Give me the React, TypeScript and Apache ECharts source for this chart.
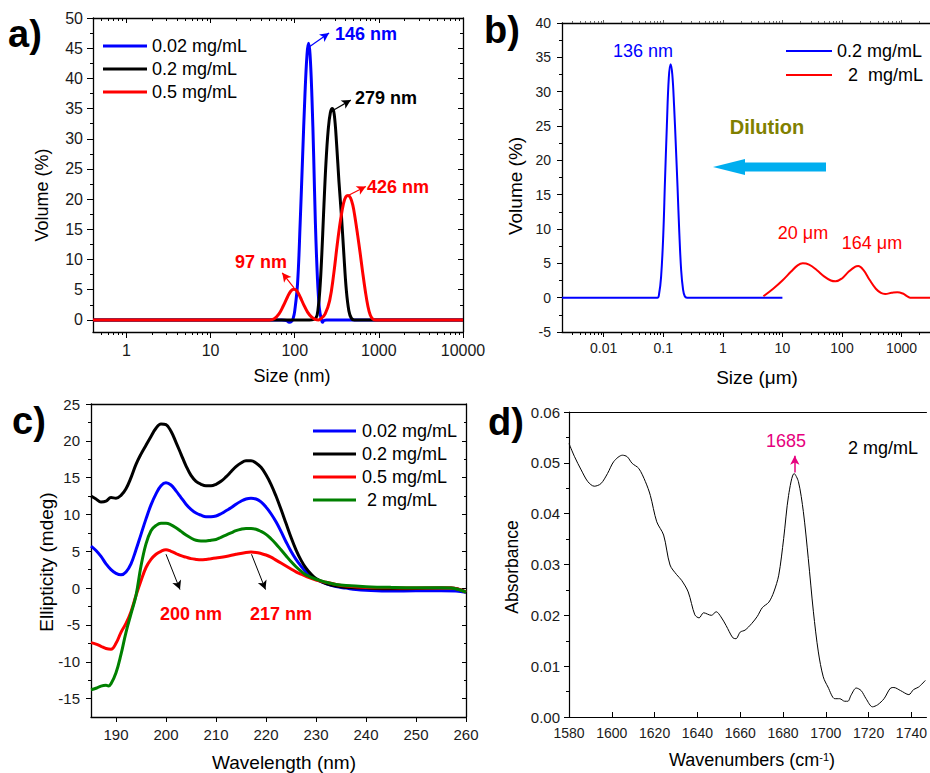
import React, { useEffect, useRef } from 'react';
import * as echarts from 'echarts';

const FONT = "'Liberation Sans', Arial, Helvetica, sans-serif";

// ---------- Panel a: DLS, size (nm) vs volume (%) ----------
const aNames = ['0.02 mg/mL', '0.2 mg/mL', '0.5 mg/mL'];
const aBlue = [[0.4, 0], [20, 0], [70, 0], [80, -0.1], [86, -0.4], [92, -0.2], [96, 0.3], [100, 1.5], [108, 6], [116, 16], [124, 27], [132, 37], [140, 44], [146, 45.8], [152, 44], [160, 37], [168, 27], [176, 16], [186, 7], [196, 2], [206, 0.2], [214, -0.4], [222, -0.1], [240, 0], [10000, 0]];
const aBlack = [[0.4, 0], [150, 0], [178, 0.3], [190, 2], [200, 5.5], [210, 11], [220, 17.5], [235, 26], [250, 31.5], [265, 34.3], [280, 35], [295, 34], [315, 29], [335, 23], [360, 17], [385, 10.5], [410, 5], [440, 1.5], [470, 0.3], [510, 0], [10000, 0]];
const aRed = [[0.4, 0], [50, 0], [57, 0.2], [65, 1.0], [73, 2.3], [82, 3.8], [90, 4.8], [98, 5.1], [106, 4.8], [116, 3.8], [128, 2.5], [142, 1.3], [158, 0.5], [175, 0.1], [192, 0], [205, 0.2], [230, 1.0], [260, 3.2], [290, 7.5], [320, 12.5], [350, 16.5], [380, 19.3], [405, 20.4], [431, 20.6], [460, 20.2], [490, 19], [520, 17], [560, 14], [600, 11], [640, 8], [690, 4.8], [740, 2.3], [790, 0.8], [840, 0.2], [900, 0], [10000, 0]];
const aXLabels = [1, 10, 100, 1000, 10000];
const aYLabels = [0, 5, 10, 15, 20, 25, 30, 35, 40, 45, 50];
const aYMinor = [2.5, 7.5, 12.5, 17.5, 22.5, 27.5, 32.5, 37.5, 42.5, 47.5];
const aArrowBlue = [[148, 45.2], [256, 47.5]];
const aArrowBlack = [[294, 34.8], [464, 36.4]];
const aArrowRed1 = [[443, 20.7], [700, 22.1]];
const aArrowRed2 = [[98, 5.3], [71, 7.8]];

// ---------- Panel b: DLS, size (um) ----------
const bNames = ['0.2 mg/mL', '2  mg/mL'];
const bBlue = [[0.002, 0], [0.08, 0], [0.085, 0.5], [0.092, 3], [0.1, 9], [0.107, 17], [0.115, 25], [0.124, 32], [0.133, 34], [0.142, 32.5], [0.152, 28], [0.163, 22], [0.174, 16], [0.186, 9.5], [0.2, 4], [0.215, 1.2], [0.23, 0.2], [0.25, 0], [10, 0]];
const bRed = [[4.8, 0.2], [7, 1.3], [10, 2.5], [14, 3.8], [18, 4.7], [22, 5.0], [28, 4.8], [38, 4.0], [50, 3.1], [65, 2.5], [78, 2.38], [100, 2.8], [130, 3.8], [165, 4.5], [188, 4.6], [230, 4.0], [290, 2.6], [370, 1.3], [450, 0.7], [530, 0.55], [680, 0.7], [850, 0.8], [1050, 0.6], [1250, 0.2], [1400, 0], [3000, 0]];
const bXLabels = [0.01, 0.1, 1, 10, 100, 1000];

// ---------- Panel c: CD spectra ----------
const cNames = ['0.02 mg/mL', '0.2 mg/mL', '0.5 mg/mL', ' 2 mg/mL'];
const cBlue = [[185, 5.7], [186, 5.1], [187, 4.3], [188, 3.3], [189, 2.5], [190, 2.0], [191, 1.8], [192, 2.2], [193, 3.3], [194, 5.2], [195, 7.3], [196, 9.4], [197, 11.3], [198, 12.8], [199, 13.9], [200, 14.3], [201, 14.0], [202, 13.2], [203, 12.3], [204, 11.4], [205, 10.7], [206, 10.2], [207, 9.9], [208, 9.7], [209, 9.7], [210, 9.8], [211, 10.1], [212, 10.5], [213, 10.9], [214, 11.4], [215, 11.8], [216, 12.1], [217, 12.2], [218, 12.1], [219, 11.7], [220, 11.0], [221, 10.1], [222, 9.0], [223, 7.7], [224, 6.3], [225, 5.0], [226, 3.9], [227, 3.0], [228, 2.2], [229, 1.6], [230, 1.2], [232, 0.6], [234, 0.2], [236, 0.0], [238, -0.2], [240, -0.3], [245, -0.4], [250, -0.35], [255, -0.35], [258, -0.4], [260, -0.55]];
const cBlack = [[185, 12.5], [186, 12.1], [187, 11.7], [188, 11.8], [189, 12.3], [190, 12.2], [191, 12.6], [192, 13.5], [193, 15.0], [194, 16.8], [195, 18.2], [196, 19.4], [197, 20.6], [198, 21.7], [199, 22.3], [200, 22.2], [201, 21.3], [202, 19.8], [203, 18.2], [204, 16.6], [205, 15.3], [206, 14.5], [207, 14.1], [208, 13.9], [209, 13.9], [210, 14.1], [211, 14.5], [212, 15.1], [213, 15.8], [214, 16.5], [215, 17.0], [216, 17.3], [217, 17.3], [218, 17.0], [219, 16.4], [220, 15.4], [221, 14.1], [222, 12.5], [223, 10.7], [224, 8.8], [225, 6.9], [226, 5.2], [227, 3.8], [228, 2.7], [229, 1.9], [230, 1.3], [232, 0.6], [234, 0.3], [236, 0.1], [240, 0.0], [245, -0.1], [250, -0.05], [255, 0.0], [257, 0.0], [260, -0.55]];
const cRed = [[185, -7.4], [186, -7.6], [187, -7.9], [188, -8.2], [189, -8.3], [190, -7.5], [191, -6.0], [192, -4.8], [193, -3.2], [194, -1.0], [195, 1.0], [196, 2.8], [197, 3.9], [198, 4.6], [199, 5.0], [200, 5.2], [201, 5.0], [202, 4.7], [203, 4.4], [204, 4.2], [205, 4.0], [206, 3.9], [207, 3.85], [208, 3.9], [209, 4.0], [210, 4.1], [212, 4.3], [214, 4.6], [216, 4.85], [217, 4.9], [218, 4.85], [219, 4.7], [220, 4.5], [221, 4.2], [222, 3.8], [223, 3.4], [224, 3.0], [225, 2.6], [226, 2.2], [227, 1.9], [228, 1.6], [230, 1.1], [232, 0.8], [234, 0.5], [236, 0.3], [240, 0.1], [245, 0.05], [250, 0.0], [257, 0.0], [260, -0.55]];
const cGreen = [[185, -13.8], [186, -13.6], [187, -13.3], [188, -13.2], [188.5, -13.3], [189, -13.0], [190, -11.5], [191, -9.0], [192, -6.0], [193, -3.5], [194, -1.0], [195, 3.0], [196, 6.0], [197, 7.8], [198, 8.5], [199, 8.8], [200, 8.8], [201, 8.6], [202, 8.2], [203, 7.7], [204, 7.2], [205, 6.8], [206, 6.5], [207, 6.4], [208, 6.4], [209, 6.5], [210, 6.6], [211, 6.9], [212, 7.2], [213, 7.5], [214, 7.8], [215, 8.0], [216, 8.1], [217, 8.1], [218, 8.0], [219, 7.7], [220, 7.3], [221, 6.7], [222, 6.0], [223, 5.2], [224, 4.4], [225, 3.6], [226, 2.9], [227, 2.3], [228, 1.8], [230, 1.2], [232, 0.8], [234, 0.5], [236, 0.35], [240, 0.2], [245, 0.1], [250, 0.05], [255, 0.05], [257, 0.0], [260, -0.55]];
const cXLabels = [190, 200, 210, 220, 230, 240, 250, 260];
const cYLabels = [-15, -10, -5, 0, 5, 10, 15, 20, 25];
const cYMinor = [-12.5, -7.5, -2.5, 2.5, 7.5, 12.5, 17.5, 22.5];
const cArrow200 = [[200, 4.6], [202.8, -0.2]];
const cArrow217 = [[217.1, 4.6], [219.9, -0.2]];

// ---------- Panel d: FTIR ----------
const dSpectrum = [[1580, 0.0538], [1582.6, 0.0512], [1585.7, 0.0486], [1588.8, 0.0463], [1591.8, 0.0454], [1594.9, 0.0459], [1598, 0.0479], [1601, 0.0503], [1605, 0.0515], [1607.2, 0.0512], [1609.5, 0.0499], [1612.6, 0.0489], [1615.7, 0.0463], [1618, 0.0436], [1621, 0.0384], [1624.2, 0.0358], [1627.2, 0.0299], [1630.3, 0.028], [1632.6, 0.0269], [1635.7, 0.0246], [1638.8, 0.0201], [1640.8, 0.0195], [1642.9, 0.0205], [1646.5, 0.02], [1648.8, 0.0207], [1651, 0.0197], [1653.4, 0.018], [1656.5, 0.0156], [1658, 0.0154], [1660, 0.0167], [1662.3, 0.0171], [1665.4, 0.0184], [1668, 0.0198], [1670.3, 0.0215], [1673.4, 0.0226], [1675.7, 0.0246], [1678, 0.0279], [1680.3, 0.0351], [1682.6, 0.0436], [1685.2, 0.0479], [1687.2, 0.0463], [1689.5, 0.0404], [1691.8, 0.0312], [1694.2, 0.0207], [1696.5, 0.0128], [1698.8, 0.0079], [1701, 0.0059], [1704.2, 0.0036], [1706.5, 0.0036], [1708.8, 0.0031], [1710.3, 0.0031], [1711.8, 0.0043], [1714.2, 0.0057], [1716.5, 0.0052], [1718.8, 0.0036], [1721.8, 0.002], [1724.2, 0.0024], [1727.2, 0.0036], [1730.3, 0.0057], [1731.8, 0.0058], [1734.9, 0.0052], [1738.8, 0.0044], [1741, 0.0054], [1743.4, 0.0059], [1746.5, 0.0072]];
const dXLabels = [1580, 1600, 1620, 1640, 1660, 1680, 1700, 1720, 1740];
const dArrow = [[1685.5, 0.0481], [1685.5, 0.0514]];

// log-axis minor tick positions (2..9 x each decade inside [min, max])
function logMinor(min: number, max: number) {
  const out: number[] = [];
  for (let d = Math.floor(Math.log10(min)); d <= Math.ceil(Math.log10(max)); d++) {
    for (let k = 2; k <= 9; k++) {
      const v = Number((k * Math.pow(10, d)).toPrecision(6));
      if (v > min && v < max) out.push(v);
    }
  }
  return out;
}

const logLabel = (v: number) => String(Number(v.toPrecision(6)));

const AX = { color: '#000', width: 1.3 };
const TK = { color: '#000', width: 1 };
const LBL = '#1a1a1a';

function arrowLine(color: string, pairs: number[][][], width = 1.2) {
  return {
    silent: true,
    symbol: ['none', 'arrow'],
    symbolSize: [7, 9],
    label: { show: false },
    emphasis: { disabled: true },
    lineStyle: { color, width, type: 'solid' },
    data: pairs.map((p) => [{ coord: p[0] }, { coord: p[1] }]),
  };
}

function txt(x: number, y: number, text: string, o: any = {}) {
  return {
    type: 'text', x, y, rotation: o.rotation || 0, silent: true,
    style: {
      text, fill: o.fill || '#000', fontSize: o.size || 18, fontWeight: o.bold ? 'bold' : 'normal',
      fontFamily: FONT, align: o.align || 'left', verticalAlign: 'middle', rich: o.rich,
    },
  };
}
function seg(x1: number, y1: number, x2: number, y2: number, stroke: string, w: number) {
  return { type: 'line', silent: true, shape: { x1, y1, x2, y2 }, style: { stroke, lineWidth: w } };
}

function logAxis(grid: number, min: number, max: number, pos: string, o: any) {
  return {
    gridIndex: grid, type: 'log', logBase: 10, min, max, position: pos,
    axisLine: { show: o.line !== false, onZero: false, lineStyle: AX },
    axisTick: { show: true, inside: !!o.inside, length: o.len, lineStyle: o.tickStyle || TK, customValues: o.ticks },
    minorTick: { show: false },
    axisLabel: o.labels ? { show: true, fontSize: o.fs, color: LBL, margin: o.margin, customValues: o.labels, formatter: logLabel } : { show: false },
    splitLine: { show: false }, minorSplitLine: { show: false },
  };
}

export default function App() {
  const ref = useRef<HTMLDivElement>(null);
  useEffect(() => {
    document.body.style.margin = '0';
    const chart = echarts.init(ref.current!, null, { renderer: 'svg' });
    const line = (name: string, data: number[][], color: string, w: number, xi: number, yi: number, extra: any = {}) => ({
      name, type: 'line', data, xAxisIndex: xi, yAxisIndex: yi, symbol: 'none', smooth: 0.4,
      lineStyle: { color, width: w }, itemStyle: { color }, ...extra,
    });
    const aMinor = logMinor(0.4, 10000);
    const bMinor = logMinor(0.002, 3000);
    const faint = { color: '#666', width: 1 };

    const option: any = {
      animation: false,
      backgroundColor: '#fff',
      textStyle: { fontFamily: FONT },
      grid: [
        { left: 93, top: 18, width: 370, height: 314 },
        { left: 562, top: 23, width: 368, height: 309 },
        { left: 91, top: 404, width: 375, height: 313 },
        { left: 569, top: 412, width: 361, height: 305 },
      ],
      xAxis: [
        // 0 a bottom
        logAxis(0, 0.4, 10000, 'bottom', { len: 6, ticks: aXLabels, labels: aXLabels, fs: 16, margin: 10 }),
        // 1 a top
        logAxis(0, 0.4, 10000, 'top', { len: 5, inside: true, ticks: aXLabels }),
        // 2 b bottom
        logAxis(1, 0.002, 3000, 'bottom', { len: 5, ticks: bXLabels, labels: bXLabels, fs: 14, margin: 9 }),
        // 3 b top
        logAxis(1, 0.002, 3000, 'top', { len: 3, ticks: bXLabels, tickStyle: faint }),
        // 4 c bottom
        { gridIndex: 2, type: 'value', min: 185, max: 260, position: 'bottom',
          axisLine: { onZero: false, lineStyle: AX }, axisTick: { length: 5, lineStyle: TK, customValues: cXLabels },
          axisLabel: { fontSize: 15, color: LBL, margin: 10, customValues: cXLabels },
          splitLine: { show: false } },
        // 5 c top
        { gridIndex: 2, type: 'value', min: 185, max: 260, position: 'top',
          axisLine: { onZero: false, lineStyle: AX }, axisTick: { show: false }, axisLabel: { show: false }, splitLine: { show: false } },
        // 6 d bottom
        { gridIndex: 3, type: 'value', min: 1580, max: 1747, position: 'bottom',
          axisLine: { onZero: false, lineStyle: { color: '#000', width: 1.2 } },
          axisTick: { inside: true, length: 5, lineStyle: TK, customValues: dXLabels },
          axisLabel: { fontSize: 14, color: LBL, margin: 9, customValues: dXLabels, formatter: (v: number) => String(v) },
          splitLine: { show: false } },
        // 7 d top
        { gridIndex: 3, type: 'value', min: 1580, max: 1747, position: 'top',
          axisLine: { onZero: false, lineStyle: { color: '#000', width: 1.2 } }, axisTick: { show: false }, axisLabel: { show: false }, splitLine: { show: false } },
        // 8 a bottom minor
        logAxis(0, 0.4, 10000, 'bottom', { len: 3, ticks: aMinor, line: false }),
        // 9 a top minor
        logAxis(0, 0.4, 10000, 'top', { len: 3, inside: true, ticks: aMinor, line: false }),
        // 10 b bottom minor
        logAxis(1, 0.002, 3000, 'bottom', { len: 3, ticks: bMinor, line: false }),
        // 11 b top minor
        logAxis(1, 0.002, 3000, 'top', { len: 2, ticks: bMinor, line: false, tickStyle: faint }),
      ],
      yAxis: [
        // 0 a left
        { gridIndex: 0, type: 'value', min: -2, max: 50, position: 'left',
          axisLine: { show: true, onZero: false, lineStyle: AX }, axisTick: { show: true, length: 6, lineStyle: TK, customValues: aYLabels },
          axisLabel: { fontSize: 16, color: LBL, margin: 10, customValues: aYLabels }, splitLine: { show: false } },
        // 1 a left minor
        { gridIndex: 0, type: 'value', min: -2, max: 50, position: 'left',
          axisLine: { show: false }, axisTick: { show: true, length: 3, lineStyle: TK, customValues: aYMinor },
          axisLabel: { show: false }, splitLine: { show: false } },
        // 2 a right
        { gridIndex: 0, type: 'value', min: -2, max: 50, position: 'right',
          axisLine: { show: true, onZero: false, lineStyle: AX }, axisTick: { show: true, inside: true, length: 5, lineStyle: TK, customValues: aYLabels },
          axisLabel: { show: false }, splitLine: { show: false } },
        // 3 a right minor
        { gridIndex: 0, type: 'value', min: -2, max: 50, position: 'right',
          axisLine: { show: false }, axisTick: { show: true, inside: true, length: 3, lineStyle: TK, customValues: aYMinor },
          axisLabel: { show: false }, splitLine: { show: false } },
        // 4 b left
        { gridIndex: 1, type: 'value', min: -5, max: 40, interval: 5, position: 'left',
          axisLine: { show: true, onZero: false, lineStyle: AX }, axisTick: { show: true, length: 5, lineStyle: TK },
          minorTick: { show: true, splitNumber: 2, length: 3, lineStyle: TK },
          axisLabel: { fontSize: 14, color: LBL, margin: 11 }, splitLine: { show: false } },
        // 5 c left
        { gridIndex: 2, type: 'value', min: -17.5, max: 25, position: 'left',
          axisLine: { show: true, onZero: false, lineStyle: AX }, axisTick: { show: true, length: 5, lineStyle: TK, customValues: cYLabels },
          axisLabel: { fontSize: 15, color: LBL, margin: 11, customValues: cYLabels }, splitLine: { show: false } },
        // 6 c left minor
        { gridIndex: 2, type: 'value', min: -17.5, max: 25, position: 'left',
          axisLine: { show: false }, axisTick: { show: true, length: 3, lineStyle: TK, customValues: cYMinor },
          axisLabel: { show: false }, splitLine: { show: false } },
        // 7 c right
        { gridIndex: 2, type: 'value', min: -17.5, max: 25, position: 'right',
          axisLine: { show: true, onZero: false, lineStyle: AX }, axisTick: { show: true, inside: true, length: 4, lineStyle: TK, customValues: cYLabels },
          axisLabel: { show: false }, splitLine: { show: false } },
        // 8 c right minor
        { gridIndex: 2, type: 'value', min: -17.5, max: 25, position: 'right',
          axisLine: { show: false }, axisTick: { show: true, inside: true, length: 2, lineStyle: TK, customValues: cYMinor },
          axisLabel: { show: false }, splitLine: { show: false } },
        // 9 d left
        { gridIndex: 3, type: 'value', min: 0, max: 0.06, interval: 0.01, position: 'left',
          axisLine: { show: true, onZero: false, lineStyle: { color: '#000', width: 1.2 } }, axisTick: { show: true, length: 5, lineStyle: TK },
          minorTick: { show: true, splitNumber: 2, length: 3, lineStyle: TK },
          axisLabel: { fontSize: 15, color: LBL, margin: 9, formatter: (v: number) => v.toFixed(2) }, splitLine: { show: false } },
      ],
      series: [
        line(aNames[0], aBlue, '#0000ff', 3, 0, 0, { markLine: arrowLine('#0000ff', [aArrowBlue]) }),
        line(aNames[1], aBlack, '#000000', 3, 0, 0, { markLine: arrowLine('#000000', [aArrowBlack]) }),
        line(aNames[2], aRed, '#ff0000', 3, 0, 0, { markLine: arrowLine('#ff0000', [aArrowRed1, aArrowRed2]) }),
        line(bNames[0], bBlue, '#0000ff', 2, 2, 4),
        line(bNames[1], bRed, '#ff0000', 2, 2, 4),
        line(cNames[0], cBlue, '#0000ff', 3, 4, 5),
        line(cNames[1], cBlack, '#000000', 3, 4, 5),
        line(cNames[2], cRed, '#ff0000', 3, 4, 5, { markLine: arrowLine('#000000', [cArrow200, cArrow217], 1) }),
        line(cNames[3], cGreen, '#008000', 3, 4, 5),
        line('2 mg/mL FTIR', dSpectrum, '#000000', 1, 6, 9, { smooth: 0.3, markLine: arrowLine('#e6007e', [dArrow], 1.5) }),
      ],
      graphic: [
        // panel letters
        txt(8, 34, 'a)', { size: 38, bold: true }),
        txt(484, 30, 'b)', { size: 38, bold: true }),
        txt(12, 421, 'c)', { size: 38, bold: true }),
        txt(488, 422, 'd)', { size: 38, bold: true }),
        // axis titles
        txt(42, 195, 'Volume (%)', { align: 'center', rotation: Math.PI / 2 }),
        txt(292, 376, 'Size (nm)', { align: 'center' }),
        txt(515, 186, 'Volume (%)', { align: 'center', rotation: Math.PI / 2, size: 19 }),
        txt(757, 377, 'Size (μm)', { align: 'center', size: 19 }),
        txt(46, 562, 'Ellipticity (mdeg)', { align: 'center', rotation: Math.PI / 2, size: 19 }),
        txt(284, 762, 'Wavelength (nm)', { align: 'center', size: 19 }),
        txt(512, 567, 'Absorbance', { align: 'center', rotation: Math.PI / 2, size: 17.5 }),
        txt(752, 760, 'Wavenumbers (cm{sup|-1})', { align: 'center', size: 18, rich: { sup: { fontSize: 11, fontFamily: FONT, verticalAlign: 'top', fill: '#000' } } }),
        // panel a legend
        seg(103, 46, 147, 46, '#0000ff', 3), txt(152, 46, aNames[0]),
        seg(103, 69, 147, 69, '#000000', 3), txt(152, 69, aNames[1]),
        seg(103, 92, 147, 92, '#ff0000', 3), txt(152, 92, aNames[2]),
        // panel a annotations
        txt(335, 34, '146 nm', { bold: true, fill: '#0000ff' }),
        txt(355, 98, '279 nm', { bold: true, fill: '#000' }),
        txt(367, 187, '426 nm', { bold: true, fill: '#ff0000' }),
        txt(235, 262, '97 nm', { bold: true, fill: '#ff0000' }),
        // panel b legend
        seg(786, 51, 832, 51, '#0000ff', 2), txt(837, 51, bNames[0]),
        seg(786, 75, 832, 75, '#ff0000', 2), txt(848, 75, bNames[1]),
        // panel b annotations
        txt(643, 51, '136 nm', { align: 'center', fill: '#0000ff' }),
        txt(767, 127, 'Dilution', { align: 'center', bold: true, size: 20, fill: '#808000' }),
        txt(803, 233, '20 μm', { align: 'center', fill: '#ff0000' }),
        txt(872, 243, '164 μm', { align: 'center', fill: '#ff0000' }),
        { type: 'polygon', silent: true, shape: { points: [[713, 167], [745, 159], [745, 162.5], [826, 162.5], [826, 171.5], [745, 171.5], [745, 175]] }, style: { fill: '#00aeef' } },
        // panel c legend
        seg(313, 431, 356, 431, '#0000ff', 3), txt(362, 431, cNames[0]),
        seg(313, 454, 356, 454, '#000000', 3), txt(362, 454, cNames[1]),
        seg(313, 477, 356, 477, '#ff0000', 3), txt(362, 477, cNames[2]),
        seg(313, 500, 356, 500, '#008000', 3), txt(362, 500, cNames[3]),
        // panel c annotations
        txt(191, 614, '200 nm', { align: 'center', bold: true, fill: '#ff0000' }),
        txt(281, 614, '217 nm', { align: 'center', bold: true, fill: '#ff0000' }),
        // panel d annotations
        txt(786, 441, '1685', { align: 'center', fill: '#e6007e' }),
        txt(848, 448, '2 mg/mL'),
      ],
    };
    chart.setOption(option);
    return () => chart.dispose();
  }, []);
  return <div ref={ref} style={{ width: 930, height: 773 }} />;
}
